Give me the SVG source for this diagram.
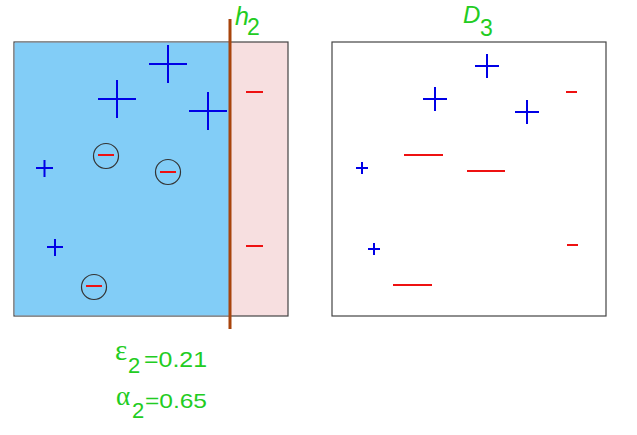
<svg xmlns="http://www.w3.org/2000/svg" width="637" height="435" viewBox="0 0 637 435">
<style>
.p{stroke:#0000e6;stroke-width:2;fill:none}
.m{stroke:#ee1111;stroke-width:2;fill:none}
.c{stroke:#333;stroke-width:1.2;fill:none}
.t{fill:#22cc22;font-family:"Liberation Sans",Arial,sans-serif}
.g{fill:#22cc22;font-family:"Liberation Serif",serif}
.box{stroke:#444;stroke-width:1.2}
</style>
<rect width="637" height="435" fill="#fff"/>
<g id="panel-left">
<rect x="14" y="42" width="274" height="274" fill="#f7dfe0" class="box"/>
<rect x="14.6" y="42.6" width="215.4" height="272.8" fill="#82cdf7"/>
<path class="p" d="M149 64h38M168 45v38M98 99h38M117 80v38M189 111h38M208 92v38M36 168h17M44.5 160v17M47 247h16M55 239v17"/>
<circle class="c" cx="106" cy="156" r="12.5"/>
<circle class="c" cx="168" cy="172" r="12.5"/>
<circle class="c" cx="94" cy="287" r="12.5"/>
<path class="m" d="M98 155h16M160 172h16M86 286h16M246 92h17M246 246h17"/>
</g>
<g id="h2">
<line x1="230" y1="19" x2="230" y2="329" stroke="#a8440c" stroke-width="3"/>
<text class="t" x="235" y="25" font-size="25" font-style="italic">h</text>
<text class="t" x="247" y="35" font-size="23">2</text>
</g>
<g id="panel-right">
<rect x="332" y="42" width="274" height="274" fill="#fff" class="box"/>
<path class="p" d="M475 66h24M487 54v24M423 99h24M435 87v24M515 112h24M527 100v24M356 168h12M362 162v12M368 249h12M374 243v12"/>
<path class="m" d="M566 92h11M567 245h11M404 155h39M467 171h38M393 285h39"/>
<text class="t" x="463" y="23" font-size="24" font-style="italic">D</text>
<text class="t" x="480" y="36" font-size="23">3</text>
</g>
<g id="labels">
<text class="g" x="115" y="360" font-size="29">ε</text>
<text class="t" x="128" y="373" font-size="22">2</text>
<text class="t" x="144" y="367" font-size="22" textLength="63" lengthAdjust="spacingAndGlyphs">=0.21</text>
<text class="g" x="116" y="405" font-size="27">α</text>
<text class="t" x="132" y="418" font-size="22">2</text>
<text class="t" x="145" y="408" font-size="21" textLength="62" lengthAdjust="spacingAndGlyphs">=0.65</text>
</g>
</svg>
